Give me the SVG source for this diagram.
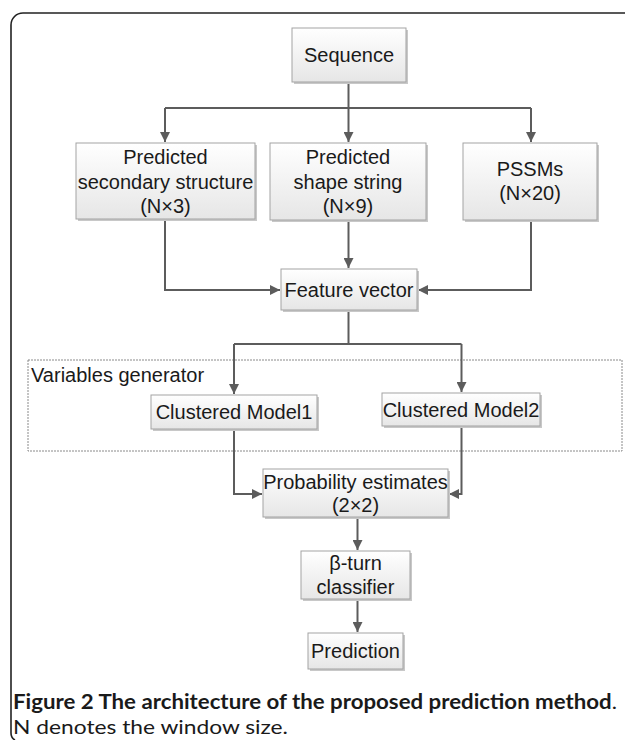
<svg xmlns="http://www.w3.org/2000/svg" width="625" height="740" viewBox="0 0 625 740">
<style>
.box{fill:url(#g);stroke:#a3a3a3;stroke-width:1}
.sh{fill:#c8c8c8}
.t{font-family:"Liberation Sans",Arial,sans-serif;font-size:20px;fill:#1a1a1a;text-anchor:middle}
.c{fill:none;stroke:#5c5c5c;stroke-width:2}
.cap{font-family:Lato,"Open Sans",sans-serif;font-size:20px;fill:#1a1a1a}
</style>
<defs>
<linearGradient id="g" x1="0" y1="0" x2="0" y2="1">
<stop offset="0" stop-color="#ffffff"/>
<stop offset="1" stop-color="#e6e6e6"/>
</linearGradient>
<marker id="a" markerWidth="11" markerHeight="10" refX="10" refY="5" orient="auto" markerUnits="userSpaceOnUse">
<path d="M0,0 L10,5 L0,10 z" fill="#5c5c5c"/>
</marker>
</defs>
<rect width="625" height="740" fill="#ffffff"/>
<path d="M625 13 H23 A12 12 0 0 0 11 25 V733 Q11 738 15 740" fill="none" stroke="#222" stroke-width="1.6"/>

<g id="variables-generator">
<rect x="28" y="360" width="594" height="91" fill="none" stroke="#8a8a8a" stroke-width="1" stroke-dasharray="2 1"/>
<text class="t" x="31" y="382" style="text-anchor:start">Variables generator</text>
</g>

<g id="connectors">
<path class="c" d="M348.5 82 V108"/>
<path class="c" d="M165 108 H531"/>
<path class="c" d="M165 108 V142" marker-end="url(#a)"/>
<path class="c" d="M348.5 108 V142" marker-end="url(#a)"/>
<path class="c" d="M531 108 V142" marker-end="url(#a)"/>
<path class="c" d="M165 219 V290 H280" marker-end="url(#a)"/>
<path class="c" d="M348.5 220 V268" marker-end="url(#a)"/>
<path class="c" d="M531 220 V290 H418" marker-end="url(#a)"/>
<path class="c" d="M348.5 310 V344"/>
<path class="c" d="M234 344 H461.5"/>
<path class="c" d="M234 344 V394" marker-end="url(#a)"/>
<path class="c" d="M461.5 344 V392" marker-end="url(#a)"/>
<path class="c" d="M234 429 V494 H262" marker-end="url(#a)"/>
<path class="c" d="M461.5 426 V494 H449" marker-end="url(#a)"/>
<path class="c" d="M357.5 517 V550" marker-end="url(#a)"/>
<path class="c" d="M357.5 599 V632" marker-end="url(#a)"/>
</g>

<g id="sequence">
<rect class="sh" x="294" y="30" width="114" height="54"/>
<rect class="box" x="292" y="28" width="114" height="54"/>
<text class="t" x="349" y="62">Sequence</text>
</g>

<g id="pred-secondary">
<rect class="sh" x="78" y="145" width="179" height="76"/>
<rect class="box" x="76" y="143" width="179" height="76"/>
<text class="t" x="165.5" y="164">Predicted</text>
<text class="t" x="165.5" y="189">secondary structure</text>
<text class="t" x="165.5" y="213">(N×3)</text>
</g>

<g id="pred-shape">
<rect class="sh" x="272" y="145" width="156" height="77"/>
<rect class="box" x="270" y="143" width="156" height="77"/>
<text class="t" x="348" y="164">Predicted</text>
<text class="t" x="348" y="189">shape string</text>
<text class="t" x="348" y="213">(N×9)</text>
</g>

<g id="pssms">
<rect class="sh" x="465" y="145" width="134" height="77"/>
<rect class="box" x="463" y="143" width="134" height="77"/>
<text class="t" x="530" y="176">PSSMs</text>
<text class="t" x="530" y="200">(N×20)</text>
</g>

<g id="feature-vector">
<rect class="sh" x="283" y="271" width="136" height="41"/>
<rect class="box" x="281" y="269" width="136" height="41"/>
<text class="t" x="349" y="297">Feature vector</text>
</g>

<g id="model1">
<rect class="sh" x="153" y="397" width="166" height="34"/>
<rect class="box" x="151" y="395" width="166" height="34"/>
<text class="t" x="234" y="419">Clustered Model1</text>
</g>

<g id="model2">
<rect class="sh" x="384" y="395" width="158" height="33"/>
<rect class="box" x="382" y="393" width="158" height="33"/>
<text class="t" x="461" y="417">Clustered Model2</text>
</g>

<g id="probability">
<rect class="sh" x="265" y="471" width="185" height="48"/>
<rect class="box" x="263" y="469" width="185" height="48"/>
<text class="t" x="355.5" y="489">Probability estimates</text>
<text class="t" x="355.5" y="512">(2×2)</text>
</g>

<g id="classifier">
<rect class="sh" x="303" y="553" width="109" height="48"/>
<rect class="box" x="301" y="551" width="109" height="48"/>
<text class="t" x="355.5" y="570">β-turn</text>
<text class="t" x="355.5" y="594">classifier</text>
</g>

<g id="prediction">
<rect class="sh" x="310" y="635" width="95" height="36"/>
<rect class="box" x="308" y="633" width="95" height="36"/>
<text class="t" x="355.5" y="658">Prediction</text>
</g>

<g id="caption">
<text class="cap" x="13" y="709" textLength="604" lengthAdjust="spacingAndGlyphs"><tspan font-weight="bold">Figure 2 The architecture of the proposed prediction method</tspan>.</text>
<text class="cap" x="13" y="734" textLength="275" lengthAdjust="spacingAndGlyphs">N denotes the window size.</text>
</g>
</svg>
